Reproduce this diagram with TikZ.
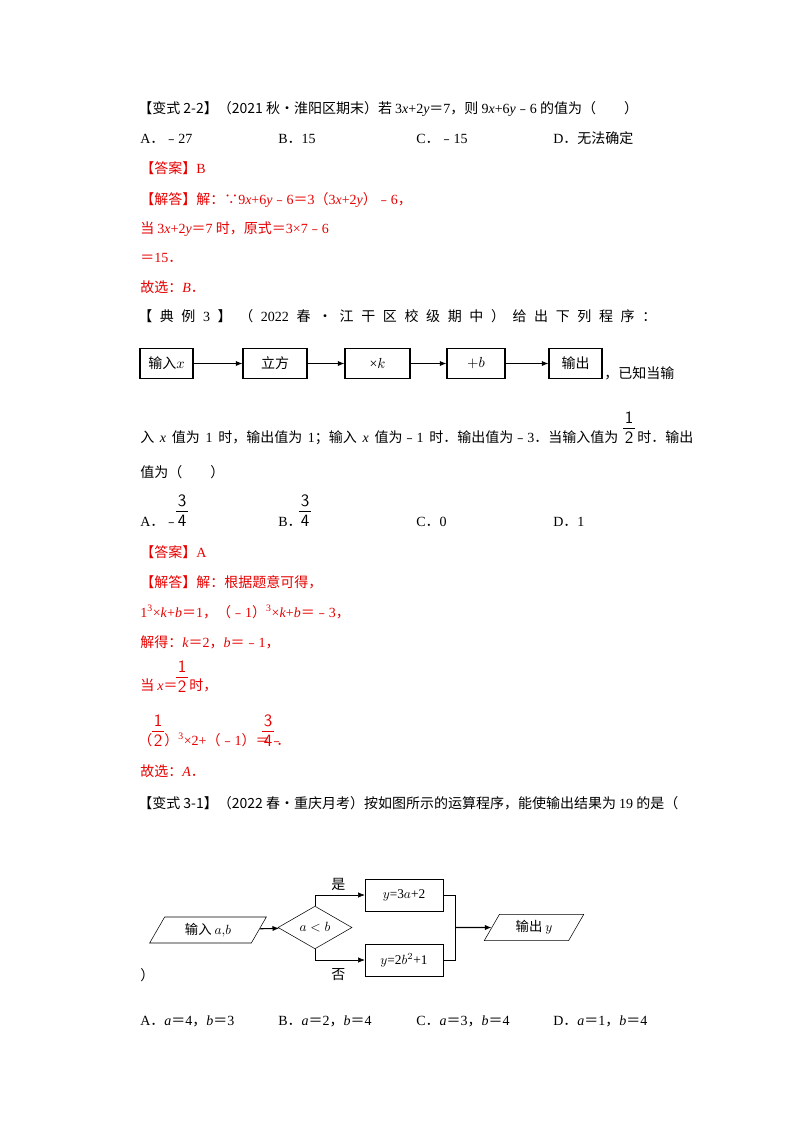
\documentclass[tikz,border=0pt]{standalone}
\usepackage{fontspec}
\setmainfont{Liberation Serif}
\newfontfamily\cjk{Noto Sans CJK SC}
\usetikzlibrary{shapes.geometric,arrows.meta}
\definecolor{ans}{RGB}{230,0,0}
\newcommand{\C}[1]{{\cjk #1}}
\begin{document}
\begin{tikzpicture}[x=0.75pt,y=-0.75pt,
  t/.style={anchor=base west,inner sep=0,font=\fontsize{10.5}{12}\selectfont},
  r/.style={t,text=ans},
  fr/.style={anchor=base,inner sep=0,font=\fontsize{13}{14}\sffamily\selectfont},
  box/.style={draw,thick,minimum height=22.5pt,inner sep=0,font=\fontsize{10.5}{12}\selectfont},
  ar/.style={-{Latex[length=5pt,width=4pt]},thick},
  ln/.style={thick}]
\useasboundingbox (0,0) rectangle (800,1132);
\node[t] (l1) at (138,113) {\C{【变式 2-2】（2021 秋•淮阳区期末）若 }3\textit{x}+2\textit{y}\C{＝}7\C{，则 }9\textit{x}+6\textit{y}\C{﹣}6\C{ 的值为（　　）}};
\node[t] (o1a) at (140,143) {A\C{．﹣}27};
\node[t] (o1b) at (278,143) {B\C{．}15};
\node[t] (o1c) at (416,143) {C\C{．﹣}15};
\node[t] (o1d) at (553,143) {D\C{．无法确定}};
\node[r] (a1) at (140,173) {\C{【答案】}B};
\node[r] (a2) at (140,204) {\C{【解答】解：∵}9\textit{x}+6\textit{y}\C{﹣}6\C{＝}3\C{（}3\textit{x}+2\textit{y}\C{）﹣}6\C{，}};
\node[r] (a3) at (140,233) {\C{当 }3\textit{x}+2\textit{y}\C{＝}7\C{ 时，原式＝}3×7\C{﹣}6};
\node[r] (a4) at (140,262) {\C{＝}15\C{．}};
\node[r] (a5) at (140,292) {\C{故选：}\textit{B}\C{．}};
\node[t] (l2) at (138,321) {\makebox[518\dimexpr0.75pt][s]{\C{【}\hfill\C{典}\hfill\C{例}\hfill 3\hfill\C{】}\hfill\C{（}\hfill 2022\hfill\C{春}\hfill\C{•}\hfill\C{江}\hfill\C{干}\hfill\C{区}\hfill\C{校}\hfill\C{级}\hfill\C{期}\hfill\C{中}\hfill\C{）}\hfill\C{给}\hfill\C{出}\hfill\C{下}\hfill\C{列}\hfill\C{程}\hfill\C{序}\hfill\C{：}}};
% flowchart 1
\node[box,minimum width=39.75pt] (b1) at (166.5,363.5) {\C{输入}$x$};
\node[box,minimum width=48pt] (b2) at (275,363.5) {\C{立方}};
\node[box,minimum width=48.75pt] (b3) at (377.5,363.5) {×$k$};
\node[box,minimum width=43.5pt] (b4) at (476,363.5) {$+b$};
\node[box,minimum width=39.75pt] (b5) at (575.5,363.5) {\C{输出}};
\draw[ar] (b1) -- (b2);
\draw[ar] (b2) -- (b3);
\draw[ar] (b3) -- (b4);
\draw[ar] (b4) -- (b5);
\node[t] (l4) at (140,442) {\makebox[478\dimexpr0.75pt][s]{\C{入 }\textit{x}\C{ 值为 }1\C{ 时，输出值为 }1\C{；输入 }\textit{x}\C{ 值为﹣}1\C{ 时．输出值为﹣}3\C{．当输入值为}}};
\node[t] (l3) at (604,378) {\C{，已知当输}};
\node[fr] (f1n) at (629,423) {1};
\draw (623,428) -- (635,428);
\node[fr] (f1d) at (629,443) {2};
\node[t] (l4b) at (637,442) {\C{时．输出}};
\node[t] (l5) at (140,477) {\C{值为（　　）}};
\node[t] (o2a) at (140,526) {A\C{．﹣}};
\node[fr] (f2n) at (182,506) {3};
\node[fr] (f2d) at (182,526) {4};
\draw (176,511) -- (188,511);
\node[t] (o2b) at (278,526) {B\C{．}};
\node[fr] (f3n) at (305,506) {3};
\node[fr] (f3d) at (305,526) {4};
\draw (299,511) -- (311,511);
\node[t] (o2c) at (416,526) {C\C{．}0};
\node[t] (o2d) at (553,526) {D\C{．}1};
\node[r] (b1a) at (140,557) {\C{【答案】}A};
\node[r] (b2a) at (140,587) {\C{【解答】解：根据题意可得，}};
\node[r] (b3a) at (140,617) {1\textsuperscript{3}×\textit{k}+\textit{b}\C{＝}1\C{，（﹣}1\C{）}\textsuperscript{3}×\textit{k}+\textit{b}\C{＝﹣}3\C{，}};
\node[r] (b4a) at (140,647) {\C{解得：}\textit{k}\C{＝}2\C{，}\textit{b}\C{＝﹣}1\C{，}};
\node[r] (b5a) at (140,690) {\C{当 }\textit{x}\C{＝}};
\node[fr,text=ans] (f4n) at (182,672) {1};
\node[fr,text=ans] (f4d) at (182,692) {2};
\draw[ans] (176,677) -- (188,677);
\node[r] (b5b) at (189,690) {\C{时，}};
\node[r] (b6a) at (138,745) {\C{（}};
\node[fr,text=ans] (f5n) at (158,726) {1};
\node[fr,text=ans] (f5d) at (158,746) {2};
\draw[ans] (152,731) -- (164,731);
\node[r] (b6b) at (164,745) {\C{）}\textsuperscript{3}×2+\C{（﹣}1\C{）＝﹣}};
\node[fr,text=ans] (f6n) at (268,726) {3};
\node[fr,text=ans] (f6d) at (268,746) {4};
\draw[ans] (262,731) -- (274,731);
\node[r] (b6c) at (276,745) {\C{．}};
\node[r] (b7a) at (140,776) {\C{故选：}\textit{A}\C{．}};
\node[t] (l6) at (138,808) {\C{【变式 3-1】（2022 春•重庆月考）按如图所示的运算程序，能使输出结果为 }19\C{ 的是（}};
% flowchart 2
\node[trapezium,trapezium left angle=60,trapezium right angle=120,draw,minimum width=75pt,minimum height=19.5pt,inner sep=0,font=\fontsize{10}{12}\selectfont] (in) at (208,930) {\C{输入 }$a{,}b$};
\node[diamond,draw,aspect=1.7,minimum width=55.5pt,minimum height=32pt,inner sep=0,font=\fontsize{10}{12}\selectfont] (dm) at (315,927.5) {$a<b$};
\node[draw,minimum width=58.5pt,minimum height=24pt,inner sep=0,font=\fontsize{10}{12}\selectfont] (y1) at (404,895) {$y$=3$a$+2};
\node[draw,minimum width=58.5pt,minimum height=24pt,inner sep=0,font=\fontsize{10}{12}\selectfont] (y2) at (404,960) {$y$=2$b^2$+1};
\node[trapezium,trapezium left angle=60,trapezium right angle=120,draw,minimum width=75pt,minimum height=19.5pt,inner sep=0,font=\fontsize{10}{12}\selectfont] (out) at (534,927.5) {\C{输出 }$y$};
\coordinate (m1) at (455,895);
\coordinate (m2) at (455,960);
\coordinate (m) at (455,927.5);
\draw[ar] (in) -- (dm);
\draw[ar,thin] (dm.north) |- (y1.west);
\draw[ar,thin] (dm.south) |- (y2.west);
\draw (y1.east) -- (m1) -- (m2) -- (y2.east);
\draw[ar] (m) -- (out.west);
\node[t] (yes) at (331,889) {\C{是}};
\node[t] (no) at (331,979) {\C{否}};
\node[t] (cl) at (140,980) {\C{）}};
\node[t] (o3a) at (140,1025) {A\C{．}\textit{a}\C{＝}4\C{，}\textit{b}\C{＝}3};
\node[t] (o3b) at (278,1025) {B\C{．}\textit{a}\C{＝}2\C{，}\textit{b}\C{＝}4};
\node[t] (o3c) at (416,1025) {C\C{．}\textit{a}\C{＝}3\C{，}\textit{b}\C{＝}4};
\node[t] (o3d) at (553,1025) {D\C{．}\textit{a}\C{＝}1\C{，}\textit{b}\C{＝}4};
\end{tikzpicture}
\end{document}
